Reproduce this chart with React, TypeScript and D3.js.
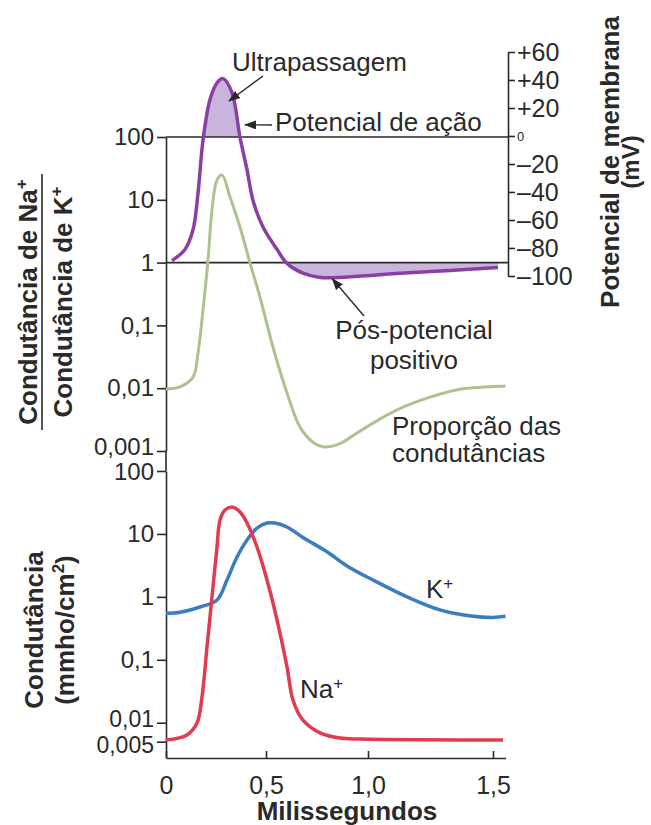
import * as d3 from 'd3'
import { useEffect, useRef } from 'react'

// tempo em ms + valores
const tMembrana = [0.03, 0.095, 0.135, 0.16, 0.185, 0.22, 0.255, 0.285, 0.33, 0.37, 0.405, 0.435, 0.485, 0.554, 0.603, 0.681, 0.765, 0.97, 1.128, 1.328, 1.52]
const vMembrana = [-89, -81, -67, -41, -3, 26, 38, 41, 31, -1, -24, -46, -65, -81, -91, -98, -101, -100, -98, -96, -94]

const tProporcao = [0, 0.07, 0.135, 0.16, 0.185, 0.21, 0.23, 0.255, 0.28, 0.32, 0.37, 0.42, 0.47, 0.534, 0.603, 0.667, 0.735, 0.785, 0.868, 0.946, 1.116, 1.248, 1.38, 1.55]
const proporcao = [0.0097, 0.0105, 0.015, 0.036, 0.175, 1.1, 6.9, 20.6, 24.8, 11.1, 3.69, 0.99, 0.283, 0.0453, 0.0084, 0.0024, 0.00134, 0.00116, 0.00134, 0.00194, 0.0045, 0.0072, 0.0098, 0.0108]

const tNa = [0, 0.105, 0.155, 0.18, 0.205, 0.23, 0.255, 0.27, 0.295, 0.33, 0.37, 0.41, 0.455, 0.505, 0.554, 0.603, 0.632, 0.681, 0.765, 0.863, 0.961, 1.54]
const gNa = [0.0053, 0.0064, 0.0099, 0.0256, 0.16, 1.0, 6.2, 16.6, 24, 26.8, 22.3, 13.9, 6.2, 1.85, 0.43, 0.077, 0.023, 0.011, 0.0069, 0.0057, 0.0055, 0.0053]

const tK = [0, 0.07, 0.17, 0.255, 0.305, 0.355, 0.405, 0.455, 0.505, 0.544, 0.603, 0.681, 0.799, 0.897, 1.02, 1.156, 1.288, 1.42, 1.5, 1.55]
const gK = [0.55, 0.57, 0.69, 0.89, 1.85, 4.3, 8.0, 12.4, 14.9, 14.9, 12.9, 8.8, 5.2, 3.1, 1.85, 1.0, 0.62, 0.49, 0.47, 0.49]

const xTicks = [0, 0.5, 1.0, 1.5]
const xTickLabels = ['0', '0,5', '1,0', '1,5']
const ratioTicks = [100, 10, 1, 0.1, 0.01, 0.001]
const ratioTickLabels = ['100', '10', '1', '0,1', '0,01', '0,001']
const condTicks = [100, 10, 1, 0.1, 0.01, 0.005]
const condTickLabels = ['100', '10', '1', '0,1', '0,01', '0,005']
const mvTicks = [60, 40, 20, 0, -20, -40, -60, -80, -100]
const mvTickLabels = ['+60', '+40', '+20', '0', '–20', '–40', '–60', '–80', '–100']

const FONT = '"Liberation Sans", Arial, Helvetica, sans-serif'
const INK = '#2a2a2a'

export default function App() {
    const svgRef = useRef<SVGSVGElement>(null)

    useEffect(() => {
        if (svgRef.current) drawChart(svgRef.current)
    }, [svgRef])

    return (
        <div style={{ position: 'absolute', left: 0, top: 0 }}>
            <svg ref={svgRef} width={651} height={825} style={{ display: 'block', background: '#fff' }}></svg>
        </div>
    )
}

function drawChart(el: SVGSVGElement) {
    const svg = d3.select(el)
    svg.selectAll('*').remove()

    const x = d3.scaleLinear().domain([0, 0.5, 1, 1.5, 1.55]).range([166, 266, 368, 493, 505.5])
    const yRatio = d3.scaleLog().domain([0.001, 100]).range([451, 137])
    const yCond = d3.scaleLog().domain([0.00275, 100]).range([758, 471])
    const yMv = d3.scaleLinear().domain([-100, 60]).range([276, 52])
    const xRight = 508
    const curve = d3.curveCatmullRom.alpha(0.5)

    const defs = svg.append('defs')
    defs.append('marker')
        .attr('id', 'seta')
        .attr('markerUnits', 'userSpaceOnUse')
        .attr('markerWidth', 12).attr('markerHeight', 9)
        .attr('refX', 11).attr('refY', 4.5)
        .attr('orient', 'auto')
        .append('path').attr('d', 'M0,0 L12,4.5 L0,9 Z').attr('fill', INK)
    defs.append('clipPath').attr('id', 'acima')
        .append('rect').attr('x', 0).attr('y', 0).attr('width', 651).attr('height', yRatio(100))
    defs.append('clipPath').attr('id', 'abaixo')
        .append('rect').attr('x', 0).attr('y', yRatio(1)).attr('width', 651).attr('height', 60)

    const mem = tMembrana.map((t, i) => [t, vMembrana[i]])

    // areas sombreadas (ultrapassagem e pos-potencial)
    const areaAcima = d3.area<number[]>().x(d => x(d[0])).y0(yRatio(100)).y1(d => yMv(d[1])).curve(curve)
    const areaAbaixo = d3.area<number[]>().x(d => x(d[0])).y0(yRatio(1)).y1(d => yMv(d[1])).curve(curve)
    svg.append('path').datum(mem).attr('d', areaAcima).attr('fill', '#c9b5dc').attr('clip-path', 'url(#acima)')
    svg.append('path').datum(mem).attr('d', areaAbaixo).attr('fill', '#c9b5dc').attr('clip-path', 'url(#abaixo)')

    // linhas horizontais 100 e 1
    ;[100, 1].forEach(v => {
        svg.append('line')
            .attr('x1', x(0)).attr('x2', xRight)
            .attr('y1', yRatio(v)).attr('y2', yRatio(v))
            .attr('stroke', INK).attr('stroke-width', 1.6)
    })

    const styleAxis = (g: any, size: number) => {
        g.attr('font-size', size).attr('font-family', FONT)
        g.select('.domain').attr('stroke', INK).attr('stroke-width', 1.6)
        g.selectAll('.tick line').attr('stroke', INK).attr('stroke-width', 1.6)
        g.selectAll('.tick text').attr('fill', INK)
    }

    const gTop = svg.append('g').attr('transform', `translate(${x(0)},0)`)
        .call(d3.axisLeft(yRatio).tickValues(ratioTicks).tickFormat((d, i) => ratioTickLabels[i]).tickSize(9).tickPadding(3).tickSizeOuter(0))
    styleAxis(gTop, 24)
    gTop.selectAll('.tick text').filter((d: any) => d === 0.001).attr('y', -4)

    const gBot = svg.append('g').attr('transform', `translate(${x(0)},0)`)
        .call(d3.axisLeft(yCond).tickValues(condTicks).tickFormat((d, i) => condTickLabels[i]).tickSize(9).tickPadding(3).tickSizeOuter(0))
    styleAxis(gBot, 24)
    gBot.selectAll('.tick text').filter((d: any) => d === 0.01).attr('y', -4).attr('font-size', 23)
    gBot.selectAll('.tick text').filter((d: any) => d === 0.005).attr('y', 3).attr('font-size', 23)
    gBot.selectAll('.tick text').filter((d: any) => d === 100).attr('y', 1)

    svg.append('line')
        .attr('x1', x(0)).attr('x2', x(0))
        .attr('y1', yRatio(0.001)).attr('y2', yCond(100))
        .attr('stroke', INK).attr('stroke-width', 1.6)

    const gMv = svg.append('g').attr('transform', `translate(${xRight},0)`)
        .call(d3.axisRight(yMv).tickValues(mvTicks).tickFormat((d, i) => mvTickLabels[i]).tickSize(7).tickPadding(2).tickSizeOuter(0))
    styleAxis(gMv, 25)
    gMv.selectAll('.tick text').filter((d: any) => d === 0).attr('font-size', 13)

    const gX = svg.append('g').attr('transform', `translate(0,${yCond.range()[0]})`)
        .call(d3.axisBottom(x).tickValues(xTicks).tickFormat((d, i) => xTickLabels[i]).tickSize(-7).tickPadding(18).tickSizeOuter(0))
    styleAxis(gX, 25)

    // curvas
    const lineRatio = d3.line<number>().x((d, i) => x(tProporcao[i])).y(d => yRatio(d)).curve(curve)
    svg.append('path').datum(proporcao).attr('d', lineRatio)
        .attr('fill', 'none').attr('stroke', '#adc290').attr('stroke-width', 3)

    const lineMem = d3.line<number[]>().x(d => x(d[0])).y(d => yMv(d[1])).curve(curve)
    svg.append('path').datum(mem).attr('d', lineMem)
        .attr('fill', 'none').attr('stroke', '#8b3fa3').attr('stroke-width', 3.5)

    const lineK = d3.line<number>().x((d, i) => x(tK[i])).y(d => yCond(d)).curve(curve)
    svg.append('path').datum(gK).attr('d', lineK)
        .attr('fill', 'none').attr('stroke', '#3b7dbf').attr('stroke-width', 3.5)

    const lineNa = d3.line<number>().x((d, i) => x(tNa[i])).y(d => yCond(d)).curve(curve)
    svg.append('path').datum(gNa).attr('d', lineNa)
        .attr('fill', 'none').attr('stroke', '#e23a50').attr('stroke-width', 3.5)

    // anotacoes
    const txt = (xx: number, yy: number, s: string, anchor = 'start', size = 26, weight = 'normal') =>
        svg.append('text').attr('x', xx).attr('y', yy).attr('text-anchor', anchor)
            .attr('font-family', FONT).attr('font-size', size).attr('font-weight', weight)
            .attr('fill', INK).text(s)

    txt(232, 71, 'Ultrapassagem')
    txt(275, 131, 'Potencial de ação')
    txt(414, 339, 'Pós-potencial', 'middle')
    txt(414, 369, 'positivo', 'middle')
    txt(392, 435, 'Proporção das')
    txt(392, 462, 'condutâncias')
    txt(426, 598, 'K').append('tspan').attr('dy', -9).attr('font-size', 17).text('+')
    txt(300, 698, 'Na').append('tspan').attr('dy', -9).attr('font-size', 17).text('+')

    const arrow = (x1: number, y1: number, x2: number, y2: number) =>
        svg.append('line').attr('x1', x1).attr('y1', y1).attr('x2', x2).attr('y2', y2)
            .attr('stroke', INK).attr('stroke-width', 1.4).attr('marker-end', 'url(#seta)')

    arrow(263, 76, x(0.315), yMv(25))
    arrow(272, 125, x(0.395), yMv(8))
    arrow(364, 316, x(0.825), yMv(-102))

    // titulos dos eixos
    const rot = (cy: number) => svg.append('g').attr('transform', `translate(0,${cy}) rotate(-90)`)
    const rtxt = (g: any, v: number, s: string, size = 26) =>
        g.append('text').attr('x', 0).attr('y', v).attr('text-anchor', 'middle')
            .attr('font-family', FONT).attr('font-size', size).attr('font-weight', 'bold')
            .attr('fill', INK).text(s)

    const gFr = rot(302)
    rtxt(gFr, 37, 'Condutância de Na').append('tspan').attr('dy', -10).attr('font-size', 17).text('+')
    rtxt(gFr, 72, 'Condutância de K').append('tspan').attr('dy', -10).attr('font-size', 17).text('+')
    gFr.append('line').attr('x1', -128).attr('x2', 128).attr('y1', 42).attr('y2', 42)
        .attr('stroke', '#555').attr('stroke-width', 2)

    const gCond = rot(630)
    rtxt(gCond, 43, 'Condutância')
    const t2 = rtxt(gCond, 74, '(mmho/cm')
    t2.append('tspan').attr('dy', -10).attr('font-size', 17).text('2')
    t2.append('tspan').attr('dy', 10).text(')')

    const gPot = rot(162)
    rtxt(gPot, 619, 'Potencial de membrana')
    rtxt(gPot, 639, '(mV)', 24)

    svg.append('text').attr('x', 347).attr('y', 820).attr('text-anchor', 'middle')
        .attr('font-family', FONT).attr('font-size', 26).attr('font-weight', 'bold')
        .attr('fill', INK).text('Milissegundos')
}
